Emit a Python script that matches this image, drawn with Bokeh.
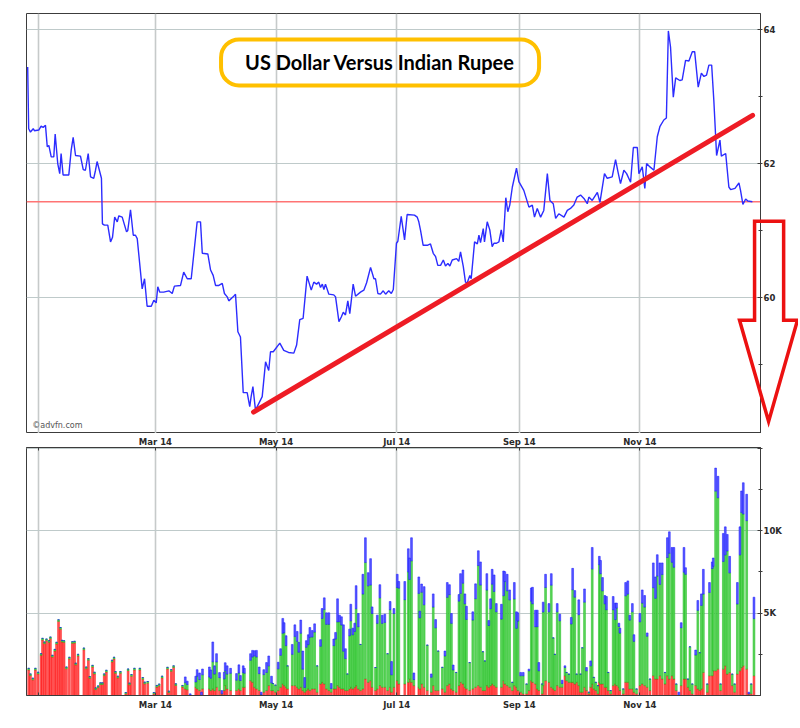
from bokeh.plotting import figure
from bokeh.models import (Range1d, FixedTicker, Grid, Span, Label,
                          LinearAxis, ColumnDataSource)
from bokeh.layouts import column
from bokeh.embed import file_html
from bokeh.resources import INLINE

# ---------------- data (x = days since 1 Jan 2014) ----------------
price_day = [
    -5.6, -5.1, -4.2, -2.8, -2.2, 0.0, 1.2, 2.2, 3.4, 4.3,
    5.1, 6.3, 7.6, 8.3, 9.6, 10.6, 11.3, 12.3, 15.2, 16.4,
    17.4, 18.6, 21.1, 22.5, 23.6, 25.0, 26.2, 27.8, 28.7, 29.5,
    31.7, 32.2, 33.2, 34.9, 36.3, 37.3, 38.4, 39.7, 40.5, 42.2,
    44.4, 45.0, 46.4, 47.8, 48.9, 49.8, 52.3, 53.5, 54.8, 56.9,
    58.2, 59.4, 60.2, 61.2, 63.2, 65.8, 67.5, 68.6, 71.7, 73.3,
    75.1, 77.1, 80.1, 81.8, 82.7, 85.5, 86.9, 88.2, 89.4, 91.1,
    92.8, 93.9, 95.3, 96.1, 98.3, 99.5, 100.7, 102.0, 103.4, 105.4,
    106.7, 107.4, 108.3, 109.6, 111.3, 113.0, 114.7, 116.3, 117.2, 118.6,
    121.9, 123.9, 126.3, 129.0, 130.4, 132.0, 133.7, 135.7, 137.8, 139.1,
    140.5, 141.6, 142.5, 143.4, 144.2, 145.0, 146.7, 149.2, 150.1, 151.8,
    153.0, 154.0, 155.1, 156.3, 157.3, 159.0, 160.2, 162.7, 164.4, 165.8,
    167.8, 169.5, 170.3, 171.5, 172.8, 174.2, 175.4, 177.0, 178.3, 179.3,
    180.9, 181.6, 183.3, 185.0, 186.3, 190.0, 191.4, 192.2, 193.1, 194.4,
    196.5, 198.1, 199.5, 200.7, 201.8, 203.2, 204.6, 205.7, 206.9, 207.9,
    209.1, 211.3, 212.4, 213.3, 214.7, 215.8, 216.7, 218.0, 218.7, 220.4,
    221.8, 222.6, 223.4, 224.8, 225.4, 226.8, 228.1, 229.3, 230.2, 231.5,
    232.7, 233.9, 234.9, 236.2, 237.2, 238.2, 239.5, 241.6, 242.8, 245.3,
    247.9, 249.6, 250.7, 252.1, 253.8, 255.4, 257.2, 258.5, 260.2, 261.4,
    263.0, 265.6, 267.3, 268.9, 270.6, 272.3, 274.0, 275.7, 277.4, 278.2,
    279.9, 282.5, 283.8, 286.1, 287.5, 290.0, 291.7, 292.9, 294.2, 295.9,
    297.3, 299.3, 300.7, 302.7, 303.5, 305.2, 306.5, 307.4, 309.1, 311.1,
    312.8, 314.1, 316.1, 317.4, 318.4, 319.5, 320.9, 322.1, 324.2, 325.4,
    327.1, 328.8, 330.5, 331.7, 333.5, 335.1, 336.4, 337.7, 338.9, 340.3,
    341.4, 342.8, 344.5, 345.2, 347.4, 349.0, 349.9, 352.1, 354.1, 354.9,
    356.1, 357.5, 358.6, 360.9,
]
price_value = [
    63.44, 62.52, 62.47, 62.52, 62.49, 62.50, 62.56, 62.54, 62.57, 62.25,
    62.27, 62.10, 62.10, 62.44, 62.00, 61.85, 62.15, 61.83, 61.83, 62.20,
    62.39, 62.12, 62.11, 61.91, 61.90, 62.15, 61.80, 61.78, 61.90, 62.03,
    61.78, 61.10, 61.08, 61.08, 60.83, 60.90, 61.20, 61.13, 61.22, 61.20,
    60.98, 61.00, 61.31, 60.93, 60.93, 60.88, 60.13, 60.28, 59.87, 59.87,
    59.96, 59.92, 60.16, 60.08, 60.08, 60.10, 60.06, 60.17, 60.18, 60.38,
    60.28, 60.28, 61.13, 61.13, 60.66, 60.65, 60.41, 60.33, 60.18, 60.18,
    60.21, 60.06, 60.01, 59.95, 60.01, 60.05, 59.49, 59.41, 58.58, 58.58,
    58.37, 58.52, 58.67, 58.32, 58.42, 58.52, 59.04, 58.91, 59.19, 59.19,
    59.32, 59.21, 59.18, 59.17, 59.29, 59.67, 59.69, 60.32, 60.11, 60.23,
    60.20, 60.23, 60.15, 60.20, 60.12, 60.20, 60.05, 60.04, 60.01, 59.64,
    59.71, 59.78, 59.74, 59.95, 59.76, 60.20, 60.02, 60.08, 60.11, 60.22,
    60.45, 60.28, 60.28, 60.06, 60.05, 60.10, 60.05, 60.10, 60.06, 60.12,
    60.81, 60.84, 61.21, 60.86, 61.24, 61.23, 61.20, 61.13, 61.00, 60.78,
    60.78, 60.80, 60.66, 60.61, 60.48, 60.48, 60.56, 60.47, 60.51, 60.47,
    60.56, 60.58, 60.54, 60.68, 60.46, 60.23, 60.22, 60.33, 60.28, 60.83,
    60.80, 60.93, 60.82, 61.03, 60.83, 61.13, 61.01, 60.76, 60.81, 60.81,
    60.83, 61.01, 60.83, 61.49, 61.28, 61.38, 61.65, 61.93, 61.73, 61.60,
    61.35, 61.38, 61.20, 61.33, 61.20, 61.30, 61.85, 61.45, 61.40, 61.18,
    61.25, 61.20, 61.30, 61.33, 61.38, 61.50, 61.53, 61.48, 61.40, 61.50,
    61.45, 61.57, 61.42, 61.85, 61.78, 61.80, 62.06, 61.88, 61.70, 61.90,
    61.85, 61.72, 62.24, 62.24, 61.85, 61.95, 61.63, 62.00, 61.95, 61.90,
    62.40, 62.55, 62.65, 62.68, 63.98, 63.74, 62.99, 63.28, 63.24, 63.25,
    63.54, 63.53, 63.67, 63.67, 63.14, 63.35, 63.30, 63.32, 63.47, 63.47,
    62.94, 62.12, 62.35, 62.11, 62.15, 61.65, 61.61, 61.63, 61.71, 61.60,
    61.39, 61.47, 61.44, 61.43,
]

# volume bars (thousands): bar top, red part (bottom), blue part (top); green is the rest
vol_day = [
    -5.1, -4.2, -3.0, -1.7, -0.3, 1.2, 1.9, 2.9, 3.9, 5.2,
    5.9, 6.9, 8.1, 9.0, 10.0, 11.0, 11.8, 12.8, 14.0, 15.5,
    17.0, 18.1, 18.7, 19.9, 22.8, 24.0, 25.1, 25.8, 27.2, 28.2,
    28.8, 30.0, 31.2, 32.2, 33.1, 34.2, 37.1, 38.1, 38.8, 40.0,
    41.3, 44.0, 45.2, 45.9, 46.9, 48.4, 51.1, 52.6, 53.6, 55.1,
    58.2, 59.7, 60.9, 62.4, 65.1, 65.8, 67.0, 68.2, 69.3, 72.7,
    74.1, 75.1, 76.6, 79.4, 80.1, 81.3, 82.3, 82.8, 86.3, 87.0,
    88.0, 88.9, 89.9, 91.4, 92.6, 93.8, 94.3, 95.3, 97.0, 100.0,
    101.2, 102.0, 103.4, 104.0, 107.1, 108.1, 109.1, 110.1, 111.5, 112.5,
    113.8, 115.2, 116.3,
    117.7, 118.4, 119.7, 121.1, 122.3, 123.4, 124.1, 125.1, 125.8, 128.2,
    129.5, 130.7, 131.5, 132.5, 133.5, 134.5, 135.3, 136.3, 137.1, 138.3,
    139.5, 140.8, 142.5, 143.3, 144.4, 145.5, 146.7, 147.9, 149.2, 150.1,
    151.1, 152.1, 153.1, 154.1, 155.1, 156.1, 157.2, 157.8, 158.8, 159.8,
    160.5, 161.6, 162.7, 163.9, 165.2, 166.6, 167.8, 168.6, 170.3, 171.2,
    172.5, 173.7, 175.0, 176.4, 177.7, 178.4, 179.6, 181.3, 182.1, 185.1,
    186.9, 187.5, 188.5, 189.7, 192.2, 192.7, 193.6, 194.9, 196.5, 198.5,
    199.5, 200.7, 202.0, 204.1, 205.4, 206.6, 207.7, 208.7, 209.6, 211.1,
    212.5, 213.3, 214.5, 215.5, 216.3, 217.9, 219.5, 220.9, 222.3, 223.4,
    224.6, 225.6, 226.6, 227.6, 228.5, 229.3, 230.3, 231.4, 234.0, 235.1,
    235.7, 236.9, 238.1, 239.5, 240.5,
    241.6, 242.3, 243.7, 245.0, 246.7, 247.9, 249.1, 249.7, 251.2, 252.1,
    252.9, 254.6, 255.1, 256.3, 258.0, 259.2, 260.2, 261.0, 262.2, 263.5,
    264.7, 266.1, 266.9, 268.1, 269.3, 270.0, 271.1, 272.0, 273.1, 274.0,
    274.9, 276.0, 277.0, 278.2, 279.1, 279.9, 280.7, 281.7, 282.8, 283.5,
    284.1, 285.1, 286.3, 287.1, 288.0, 289.2, 290.5, 291.6, 292.2, 293.4,
    293.9, 295.6, 296.8, 297.9, 298.9, 300.2, 301.0, 302.3, 304.0, 305.2,
    306.4, 307.7, 309.1, 310.8, 311.9, 312.8, 314.1, 315.3, 316.7, 317.9,
    318.9, 320.2, 321.2, 322.4, 323.7, 324.9, 326.3, 327.1, 328.3, 329.3,
    330.5, 332.2, 333.3, 334.3, 335.1, 336.1, 338.1, 339.2, 340.6, 341.1,
    342.3, 343.5, 344.8, 346.2, 347.2, 348.2, 349.4, 350.7, 351.9, 353.3,
    354.6, 355.4, 356.3, 358.0, 359.1, 360.3, 361.7,
]
vol_top = [
    1.65, 1.31, 1.05, 1.65, 1.41, 2.54, 3.47, 3.25, 3.43, 3.33,
    3.55, 2.44, 2.80, 3.23, 4.60, 4.13, 3.35, 3.33, 1.73, 2.32,
    3.27, 3.29, 1.96, 2.50, 2.88, 1.73, 2.24, 1.15, 1.83, 1.41,
    0.46, 0.58, 0.77, 0.77, 1.31, 1.53, 2.14, 2.32, 1.45, 1.17,
    1.45, 0.18, 1.61, 0.75, 1.27, 1.65, 1.65, 1.09, 0.81, 0.85,
    0.18, 0.61, 0.69, 1.17, 1.71, 0.26, 1.57, 1.80, 0.71, 0.61,
    1.13, 0.87, 0.10, 1.17, 1.57, 1.37, 0.20, 1.61, 1.73, 1.55,
    3.25, 1.80, 2.54, 1.39, 0.30, 1.41, 1.99, 1.80, 1.65, 1.33,
    1.86, 1.21, 1.80, 1.65, 2.54, 2.74, 2.72, 2.74, 1.73, 0.20,
    1.57, 2.00, 2.40,
    1.17, 0.73, 0.63, 2.02, 2.84, 4.68, 4.42, 3.63, 1.80, 3.10,
    4.29, 3.89, 3.23, 4.58, 2.70, 1.09, 3.33, 3.69, 4.13, 3.95,
    4.35, 1.80, 3.39, 5.28, 5.93, 5.02, 5.02, 0.73, 3.43, 3.83,
    5.87, 4.88, 4.78, 4.29, 2.84, 1.31, 4.03, 5.54, 4.09, 4.39,
    6.67, 4.98, 3.10, 7.36, 9.58, 7.46, 8.31, 5.38, 1.70, 4.88,
    6.73, 4.88, 4.94, 2.54, 5.71, 2.06, 5.28, 7.36, 6.92, 6.92,
    8.91, 8.35, 9.58, 1.37, 7.20, 5.12, 6.77, 6.61, 3.06, 1.31,
    6.17, 4.61, 2.70, 1.71, 2.70, 6.86, 6.73, 4.98, 1.85, 1.40,
    6.13, 7.40, 7.62, 6.17, 5.42, 2.00, 5.08, 6.78, 8.79, 8.11,
    2.66, 2.10, 7.40, 4.55, 5.87, 7.66, 7.32, 5.58, 5.54, 7.56,
    7.52, 7.36, 6.41, 0.80, 6.86,
    5.08, 5.02, 1.40, 1.40, 0.70, 1.60, 6.53, 6.57, 5.18, 5.18,
    2.00, 0.70, 5.67, 7.36, 5.58, 7.40, 3.50, 2.50, 5.58, 4.94,
    0.93, 1.80, 1.40, 1.30, 4.74, 7.72, 6.37, 1.30, 5.81, 1.30,
    2.90, 6.47, 1.70, 0.20, 2.10, 8.99, 1.10, 0.80, 0.60, 8.45,
    8.20, 7.16, 6.07, 6.01, 1.40, 0.30, 6.01, 5.61, 5.61, 4.39,
    4.09, 0.40, 6.86, 6.96, 4.88, 5.58, 3.69, 0.40, 4.98, 6.41,
    6.07, 3.80, 1.00, 8.05, 7.20, 8.55, 8.05, 8.05, 1.40, 9.58,
    9.94, 8.99, 8.99, 0.70, 0.20, 4.42, 8.99, 7.76, 1.00, 2.96,
    0.70, 2.76, 5.77, 2.60, 6.17, 7.66, 0.70, 6.86, 8.11, 8.35,
    13.81, 13.31, 0.70, 9.84, 10.24, 9.78, 8.45, 1.30, 0.70, 6.86,
    10.24, 12.42, 12.92, 12.22, 0.20, 0.70, 5.97,
]
vol_red = [
    1.55, 1.21, 0.95, 1.55, 1.31, 2.44, 3.37, 3.15, 3.33, 3.23,
    3.45, 2.34, 2.70, 3.13, 4.50, 4.03, 3.25, 3.23, 1.63, 2.22,
    3.17, 3.19, 1.86, 2.40, 2.78, 1.63, 2.14, 1.05, 1.73, 1.31,
    0.36, 0.48, 0.67, 0.67, 1.21, 1.43, 2.04, 2.22, 1.35, 1.07,
    1.35, 0.10, 1.51, 0.65, 1.17, 1.55, 1.55, 0.99, 0.71, 0.75,
    0.10, 0.51, 0.59, 1.07, 1.61, 0.18, 1.47, 1.70, 0.61, 0.51,
    0.4, 0.35, 0.0, 0.5, 0.4, 0.3, 0.0, 0.4, 0.4, 0.3,
    0.4, 0.3, 0.5, 0.3, 0.1, 0.3, 0.6, 0.4, 0.3, 0.3,
    0.4, 0.3, 0.5, 0.5, 0.9, 0.8, 0.5, 0.4, 0.3, 0.05,
    0.2, 0.3, 0.6,
    0.3, 0.3, 0.2, 0.3, 0.5, 0.7, 0.6, 0.5, 0.4, 0.6,
    0.6, 0.5, 0.4, 0.5, 0.3, 0.2, 0.3, 0.4, 0.3, 0.4,
    0.4, 0.2, 0.7, 0.8, 0.7, 0.4, 0.3, 0.2, 0.4, 0.4,
    0.6, 0.5, 0.4, 0.4, 0.3, 0.3, 0.4, 0.5, 0.4, 0.5,
    0.6, 0.4, 0.3, 0.4, 1.0, 0.8, 0.9, 0.5, 0.3, 0.4,
    0.6, 0.5, 0.5, 0.3, 0.5, 0.2, 0.5, 0.9, 0.7, 0.7,
    0.8, 1.0, 0.8, 0.6, 0.5, 0.4, 0.7, 0.5, 0.3, 0.2,
    0.6, 0.3, 0.3, 0.4, 0.2, 0.6, 0.7, 0.4, 0.3, 0.2,
    0.6, 0.8, 0.7, 0.5, 0.4, 0.3, 0.4, 0.5, 0.6, 0.5,
    0.3, 0.3, 0.6, 0.5, 0.6, 0.7, 0.6, 0.5, 0.5, 0.9,
    0.7, 0.6, 0.5, 0.3, 0.6,
    0.5, 0.3, 0.2, 0.1, 0.1, 0.3, 0.9, 0.8, 0.7, 0.4,
    0.3, 0.1, 0.6, 0.9, 0.8, 0.5, 0.4, 0.3, 0.6, 0.5,
    0.5, 1.2, 0.9, 0.8, 0.8, 0.8, 0.7, 0.8, 0.6, 0.2,
    0.2, 0.5, 0.3, 0.1, 0.5, 0.7, 0.4, 0.3, 0.1, 0.8,
    0.7, 0.7, 0.5, 0.5, 0.3, 0.1, 0.6, 0.7, 0.6, 0.5,
    0.3, 0.1, 0.8, 0.8, 0.4, 0.4, 0.2, 0.1, 0.6, 0.7,
    0.6, 0.5, 0.3, 1.2, 1.0, 1.0, 1.2, 1.0, 0.7, 1.2,
    1.0, 1.2, 1.0, 0.3, 0.0, 0.6, 1.0, 1.0, 0.5, 0.3,
    0.1, 0.6, 0.4, 0.3, 0.4, 1.4, 0.2, 1.2, 1.2, 1.5,
    1.5, 1.6, 0.3, 1.6, 1.8, 1.3, 1.4, 0.6, 0.2, 1.3,
    1.5, 1.7, 1.8, 1.6, 0.1, 0.1, 1.2,
]
vol_blue = [
    0, 0, 0, 0, 0, 0, 0, 0, 0, 0,
    0, 0, 0, 0, 0, 0, 0, 0, 0, 0,
    0, 0, 0, 0, 0, 0, 0, 0, 0, 0,
    0, 0, 0, 0, 0, 0, 0, 0, 0, 0,
    0, 0, 0, 0, 0, 0, 0, 0, 0, 0,
    0, 0, 0, 0, 0, 0, 0, 0, 0, 0,
    0.35, 0.2, 0.10, 0.35, 0.4, 0.4, 0.2, 0.35, 0.6, 0.5,
    1.2, 0.5, 0.5, 0.3, 0.2, 0.4, 0.5, 0.5, 0.3, 0.4,
    0.5, 0.3, 0.4, 0.3, 0.4, 0.4, 0.3, 0.4, 0.4, 0.15,
    0.3, 0.6, 0.6,
    0.4, 0.0, 0.0, 0.4, 0.4, 0.9, 0.6, 0.6, 0.0, 0.6,
    0.7, 0.6, 0.6, 0.8, 1.1, 0.6, 0.4, 0.6, 0.6, 0.4,
    0.5, 0.0, 0.4, 0.6, 0.7, 0.7, 0.7, 0.3, 0.4, 0.4,
    1.4, 0.4, 0.5, 1.6, 0.6, 0.0, 0.4, 1.0, 0.4, 0.5,
    1.4, 0.8, 0.0, 1.2, 1.5, 0.8, 1.6, 0.4, 0.0, 0.5,
    0.8, 0.5, 0.5, 0.0, 0.5, 0.8, 0.3, 0.8, 0.4, 1.1,
    1.4, 1.3, 1.4, 0.4, 1.0, 0.4, 0.5, 1.1, 0.0, 0.2,
    0.8, 0.5, 0.0, 0.0, 0.3, 0.9, 0.6, 0.6, 0.3, 0.0,
    0.4, 1.2, 0.8, 0.6, 0.8, 0.0, 0.5, 0.9, 0.9, 1.4,
    0.0, 0.0, 1.0, 0.3, 0.6, 0.9, 1.0, 0.5, 0.9, 1.5,
    0.6, 1.0, 0.6, 0.0, 1.0,
    1.0, 0.5, 0.2, 0.2, 0.0, 0.1, 0.8, 1.0, 1.0, 1.0,
    0.5, 0.0, 0.6, 0.8, 0.5, 0.7, 0.0, 0.0, 0.5, 0.4,
    0.2, 0.1, 0.0, 0.0, 0.4, 1.3, 0.4, 0.0, 0.9, 0.0,
    0.0, 0.8, 0.2, 0.0, 0.3, 1.3, 0.0, 0.0, 0.0, 0.5,
    0.8, 0.8, 0.5, 0.8, 0.0, 0.0, 0.8, 1.0, 0.3, 0.2,
    0.3, 0.0, 0.8, 0.8, 0.3, 0.5, 0.4, 0.0, 0.5, 0.8,
    0.7, 0.2, 0.0, 1.5, 1.3, 1.3, 1.3, 0.7, 0.0, 1.2,
    1.3, 0.9, 1.2, 0.0, 0.2, 0.3, 1.5, 0.4, 0.0, 0.0,
    0.0, 0.3, 0.6, 0.0, 0.7, 1.5, 0.0, 0.6, 0.4, 0.5,
    1.4, 1.3, 0.0, 1.7, 1.7, 1.0, 1.0, 0.0, 0.0, 1.3,
    1.7, 1.3, 1.9, 1.6, 0.1, 0.0, 1.3,
]

month_ticks = [0, 59, 120, 181, 243, 304]
month_labels = ["", "Mar 14", "May 14", "Jul 14", "Sep 14", "Nov 14"]
price_ticks = [60, 62, 64]
price_minor = [59, 61, 63]
vol_ticks = [5, 10, 15]
vol_labels = ["5K", "10K", ""]
vol_minor = [2.5, 7.5, 12.5]
ref_level = 61.43
trend_day = [108.6, 361.0]
trend_value = [58.29, 62.72]
title_text = "US Dollar Versus Indian Rupee"
# hollow "down" arrow annotation outline (days, price units)
arrow_day = [362.0, 376.7, 376.7, 383.7, 369.1, 354.4, 362.0]
arrow_value = [61.14, 61.14, 59.66, 59.66, 58.15, 59.66, 59.66]

n = len(vol_day)
if not (len(vol_top) == n and len(vol_red) == n and len(vol_blue) == n
        and len(price_day) == len(price_value)):
    raise SystemExit("length mismatch")

vol_green = [max(t - r - b, 0.0) for t, r, b in zip(vol_top, vol_red, vol_blue)]

# ---------------- styling helpers ----------------
AX_FONT = "DejaVu Sans"
AX_SIZE = "8.5px"
AX_COLOR = "#2a2a2a"
FRAME = "#3c3c3c"
VGRID = "#c6caca"
HGRID = "#bfcaca"

x_range = Range1d(-6.2, 365.0)


def style_right_axis(ax, ticks, minor, labels):
    ax.ticker = FixedTicker(ticks=ticks, minor_ticks=minor)
    ax.major_label_overrides = {t: l for t, l in zip(ticks, labels)}
    ax.major_label_text_font = AX_FONT
    ax.major_label_text_font_size = AX_SIZE
    ax.major_label_text_font_style = "bold"
    ax.major_label_text_color = AX_COLOR
    ax.axis_line_color = FRAME
    ax.major_tick_line_color = FRAME
    ax.minor_tick_line_color = FRAME
    ax.major_tick_in = 3
    ax.major_tick_out = 2
    ax.minor_tick_in = 2
    ax.minor_tick_out = 2
    ax.major_label_standoff = 1


def style_month_axis(ax, standoff):
    ax.ticker = FixedTicker(ticks=month_ticks)
    ax.major_label_overrides = {t: l for t, l in zip(month_ticks, month_labels)}
    ax.major_label_text_font = AX_FONT
    ax.major_label_text_font_size = AX_SIZE
    ax.major_label_text_font_style = "bold"
    ax.major_label_text_color = AX_COLOR
    ax.axis_line_color = FRAME
    ax.major_tick_line_color = FRAME
    ax.minor_tick_line_color = None
    ax.major_tick_in = 3
    ax.major_tick_out = 0
    ax.major_label_standoff = standoff


# ---------------- price panel ----------------
p = figure(width=798, height=433, x_range=x_range, y_range=Range1d(57.97, 64.24),
           output_backend="svg", toolbar_location=None,
           x_axis_location=None, y_axis_location="right",
           min_border_left=26, min_border_right=38, min_border_top=13, min_border_bottom=0)
p.outline_line_color = FRAME
p.outline_line_width = 1
p.background_fill_color = "white"
style_right_axis(p.yaxis[0], price_ticks, price_minor, ["60", "62", "64"])
p.ygrid.grid_line_color = HGRID
p.ygrid.grid_line_width = 1
if len(p.xgrid) == 0:
    p.add_layout(Grid(dimension=0, ticker=FixedTicker(ticks=month_ticks),
                      grid_line_color=VGRID, grid_line_width=1.6))
else:
    p.xgrid.ticker = FixedTicker(ticks=month_ticks)
    p.xgrid.grid_line_color = VGRID
    p.xgrid.grid_line_width = 1.6

p.add_layout(Span(location=ref_level, dimension="width", line_color="#ff7474",
                  line_width=1.5, level="underlay"))
p.line(price_day, price_value, line_color="#2c2cff", line_width=1.4)
p.line(trend_day, trend_value, line_color="#ee1c25", line_width=5, line_cap="round")

p.add_layout(Label(x=172.6, y=63.51, text=title_text, text_align="center",
                   text_baseline="middle", text_font="Lato", text_font_style="bold",
                   text_font_size="20px", text_color="black",
                   border_line_color="#FFC000", border_line_width=4, border_radius=18,
                   padding=dict(left=24, right=24, top=11, bottom=11)))
p.add_layout(Label(x=-3.3, y=58.02, text="\u00a9advfn.com", text_align="left",
                   text_baseline="bottom", text_font="DejaVu Sans",
                   text_font_size="8px", text_color="#555555"))

# arrow outline drawn at overlay level (extends past the frame edge)
p.patch(arrow_day, arrow_value, fill_alpha=0, line_color="#ec1111",
        line_width=3.5, line_join="miter", level="overlay")

# ---------------- volume panel ----------------
src = ColumnDataSource(dict(day=vol_day, red=vol_red, green=vol_green, blue=vol_blue))
v = figure(width=798, height=279, x_range=x_range, y_range=Range1d(0, 15.06),
           output_backend="svg", toolbar_location=None,
           x_axis_location="below", y_axis_location="right",
           min_border_left=26, min_border_right=38, min_border_top=11, min_border_bottom=15)
v.outline_line_color = FRAME
v.background_fill_color = "white"
style_right_axis(v.yaxis[0], vol_ticks, vol_minor, vol_labels)
style_month_axis(v.xaxis[0], 4)
top_axis = LinearAxis()
style_month_axis(top_axis, 1)
v.add_layout(top_axis, "above")
v.xgrid.grid_line_color = VGRID
v.xgrid.grid_line_width = 1.6
v.ygrid.grid_line_color = HGRID
v.ygrid.grid_line_width = 1

v.vbar_stack(["red", "green", "blue"], x="day", width=0.9, source=src,
             fill_color=["#ff5a5a", "#5fd65f", "#5a5aff"],
             line_color=["#ff0000", "#10b810", "#1010ff"], line_width=0.5)

layout = column(p, v, spacing=0)
open("out.html", "w").write(file_html(layout, INLINE))
